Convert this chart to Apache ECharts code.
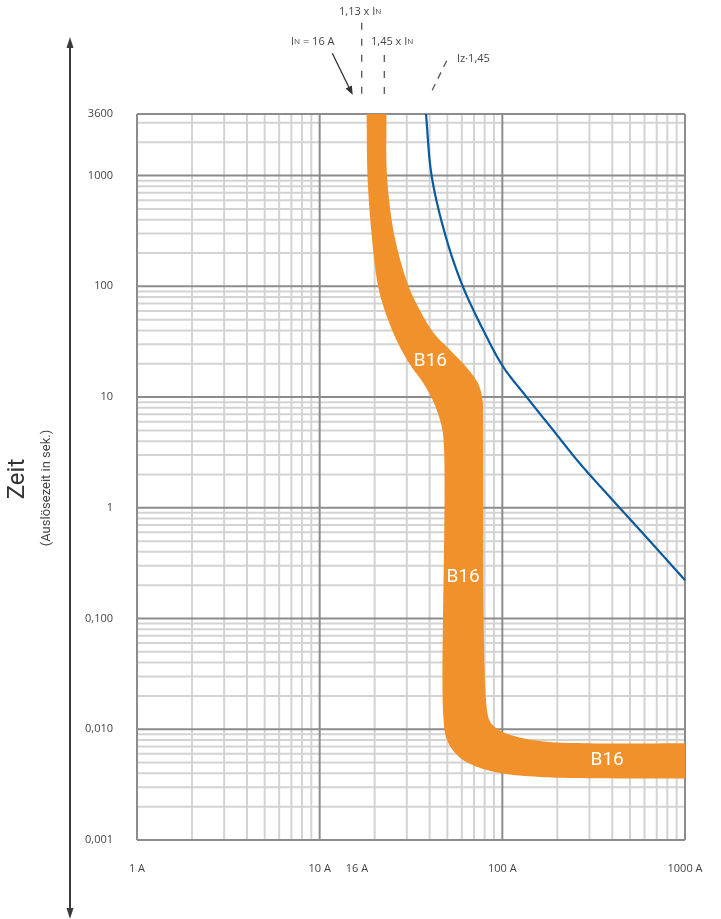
<!DOCTYPE html>
<html>
<head>
<meta charset="utf-8">
<title>Auslösekennlinie B16</title>
<script src="https://cdn.jsdelivr.net/npm/echarts@6/dist/echarts.min.js"></script>
<style>
  html, body { margin: 0; padding: 0; background: #ffffff; }
  #chart { width: 721px; height: 919px; }
</style>
</head>
<body>
<div id="chart"></div>
<script>
// ---- Axis ranges and tick labels ----
const X_MIN = 1, X_MAX = 1000;          // current in A
const Y_MIN = 0.001, Y_MAX = 3600;      // tripping time in s

const xTickValues = [1, 10, 16, 100, 1000];
const xTickLabels = ['1 A', '10 A', '16 A', '100 A', '1000 A'];
const yTickValues = [0.001, 0.01, 0.1, 1, 10, 100, 1000, 3600];
const yTickLabels = ['0,001', '0,010', '0,100', '1', '10', '100', '1000', '3600'];

// ---- Grid lines (log paper) ----
const xMajor = [1, 10, 100, 1000];
const xMinor = [2, 3, 4, 5, 6, 7, 8, 9,
                20, 30, 40, 50, 60, 70, 80, 90,
                200, 300, 400, 500, 600, 700, 800, 900];
const yMajor = [0.001, 0.01, 0.1, 1, 10, 100, 1000, 3600];
const yMinor = [0.002, 0.003, 0.004, 0.005, 0.006, 0.007, 0.008, 0.009,
                0.02, 0.03, 0.04, 0.05, 0.06, 0.07, 0.08, 0.09,
                0.2, 0.3, 0.4, 0.5, 0.6, 0.7, 0.8, 0.9,
                2, 3, 4, 5, 6, 7, 8, 9,
                20, 30, 40, 50, 60, 70, 80, 90,
                200, 300, 400, 500, 600, 700, 800, 900,
                2000, 3000];

// ---- B16 tripping band: lower (min) and upper (max) boundary ----
const b16MinCurrent = [18.08, 18.27, 19.22, 20.73, 22.36, 25.36, 28.05, 31.8, 37.0, 41.5, 45.0, 47.5,
                       47.5, 49.8, 57.2, 70.8, 97.1, 160.8, 342, 1000];
const b16MinTime    = [3600, 1000, 300, 106.5, 65.5, 37.6, 26.6, 18.8, 13.3, 9.41, 6.65, 4.39,
                       0.0132, 0.0080, 0.00573, 0.00466, 0.00403, 0.00371, 0.00361, 0.0036];
const b16MaxCurrent = [23.2, 23.37, 25.52, 30.26, 34.53, 42.26, 51.7, 63.2, 73.6, 77.9, 78.4,
                       81.9, 86.1, 97.1, 119.8, 175, 302, 1000];
const b16MaxTime    = [3600, 1000, 300, 106.5, 65.5, 37.6, 26.6, 18.8, 13.3, 9.41, 6.65,
                       0.0162, 0.0116, 0.00974, 0.00856, 0.00772, 0.00747, 0.00747];

// ---- Cable limit curve Iz·1,45 ----
const cableCurrent = [38.2, 41.0, 48.5, 59.9, 78.7, 101.2, 135.9, 190, 266, 388, 567, 828, 1000];
const cableTime    = [3600, 1000, 299, 105.7, 40.1, 18.7, 10.0, 5.01, 2.51, 1.25, 0.628, 0.314, 0.222];

// ---- "B16" captions inside the band ----
const bandLabelCurrent = [40.4, 60.9, 375];
const bandLabelTime    = [21.2, 0.236, 0.0052];
const bandLabelText    = ['B16', 'B16', 'B16'];

const FONT = '"Open Sans", "Noto Sans", sans-serif';
const NARROW = '"Liberation Sans Narrow", "Roboto", sans-serif';
const MAJOR_COLOR = '#8c8c8c';
const MINOR_COLOR = '#d3d3d3';
const BAND_COLOR = '#f0912b';
const CABLE_COLOR = '#0b5a9e';

// centripetal Catmull-Rom through pixel points
function smoothPath(pts, steps) {
  if (pts.length < 3) return pts.slice();
  const n = pts.length;
  const first = [2 * pts[0][0] - pts[1][0], 2 * pts[0][1] - pts[1][1]];
  const last = [2 * pts[n - 1][0] - pts[n - 2][0], 2 * pts[n - 1][1] - pts[n - 2][1]];
  const ext = [first].concat(pts, [last]);
  const out = [pts[0]];
  const knot = (a, b) => Math.max(Math.sqrt(Math.hypot(b[0] - a[0], b[1] - a[1])), 1e-4);
  for (let i = 1; i < ext.length - 2; i++) {
    const p0 = ext[i - 1], p1 = ext[i], p2 = ext[i + 1], p3 = ext[i + 2];
    const t0 = 0, t1 = t0 + knot(p0, p1), t2 = t1 + knot(p1, p2), t3 = t2 + knot(p2, p3);
    for (let s = 1; s <= steps; s++) {
      const t = t1 + (t2 - t1) * s / steps;
      const lerp = (a, b, ta, tb) => [
        ((tb - t) * a[0] + (t - ta) * b[0]) / (tb - ta),
        ((tb - t) * a[1] + (t - ta) * b[1]) / (tb - ta)
      ];
      const A1 = lerp(p0, p1, t0, t1), A2 = lerp(p1, p2, t1, t2), A3 = lerp(p2, p3, t2, t3);
      const B1 = lerp(A1, A2, t0, t2), B2 = lerp(A2, A3, t1, t3);
      out.push(lerp(B1, B2, t1, t2));
    }
  }
  return out;
}

function gridLineSeries(values, vertical, color, z) {
  return {
    type: 'custom',
    coordinateSystem: 'cartesian2d',
    silent: true,
    z: z,
    data: values.map(v => vertical ? [v, 1] : [1, v]),
    renderItem: function (params, api) {
      const v = api.value(vertical ? 0 : 1);
      const a = vertical ? api.coord([v, Y_MIN]) : api.coord([X_MIN, v]);
      const b = vertical ? api.coord([v, Y_MAX]) : api.coord([X_MAX, v]);
      return {
        type: 'line',
        shape: { x1: a[0], y1: a[1], x2: b[0], y2: b[1] },
        style: { stroke: color, lineWidth: 2 }
      };
    }
  };
}

function textStyle(text, size, color, align, vAlign, family) {
  return {
    text: text, fill: color, font: size + 'px ' + (family || FONT),
    align: align, textAlign: align,
    verticalAlign: vAlign, textVerticalAlign: vAlign
  };
}

const chart = echarts.init(document.getElementById('chart'), null, { renderer: 'canvas' });

// annotation arrow head for "IN = 16 A"
const arrowFrom = [332.3, 53.3], arrowTo = [352.7, 95];
const adx = arrowTo[0] - arrowFrom[0], ady = arrowTo[1] - arrowFrom[1];
const alen = Math.hypot(adx, ady);
const ux = adx / alen, uy = ady / alen;
const headBase = [arrowTo[0] - 9 * ux, arrowTo[1] - 9 * uy];
const arrowHead = [
  arrowTo,
  [headBase[0] - 3.5 * uy, headBase[1] + 3.5 * ux],
  [headBase[0] + 3.5 * uy, headBase[1] - 3.5 * ux]
];

const richIN = {
  m: { fontSize: 11, fontFamily: FONT, fill: '#444' },
  s: { fontSize: 8, fontFamily: FONT, fill: '#444' }
};

const option = {
  animation: false,
  backgroundColor: '#ffffff',
  grid: { left: 137, top: 114, width: 548, height: 726, show: false },
  xAxis: {
    type: 'log', logBase: 10, min: X_MIN, max: X_MAX,
    axisLine: { show: false }, axisTick: { show: false },
    axisLabel: { show: false }, splitLine: { show: false }
  },
  yAxis: {
    type: 'log', logBase: 10, min: Y_MIN, max: Y_MAX,
    axisLine: { show: false }, axisTick: { show: false },
    axisLabel: { show: false }, splitLine: { show: false }
  },
  series: [
    gridLineSeries(xMinor, true, MINOR_COLOR, 1),
    gridLineSeries(yMinor, false, MINOR_COLOR, 1),
    gridLineSeries(xMajor, true, MAJOR_COLOR, 2),
    gridLineSeries(yMajor, false, MAJOR_COLOR, 2),
    {
      // B16 band
      type: 'custom',
      coordinateSystem: 'cartesian2d',
      silent: true,
      z: 3,
      data: [[b16MinCurrent[0], b16MinTime[0]]],
      renderItem: function (params, api) {
        const lower = b16MinCurrent.map((c, i) => api.coord([c, b16MinTime[i]]));
        const upper = b16MaxCurrent.map((c, i) => api.coord([c, b16MaxTime[i]]));
        const pts = smoothPath(lower, 14).concat(smoothPath(upper, 14).reverse());
        return {
          type: 'polygon',
          shape: { points: pts },
          style: { fill: BAND_COLOR, stroke: null }
        };
      }
    },
    {
      name: 'Iz·1,45',
      type: 'custom',
      coordinateSystem: 'cartesian2d',
      silent: true,
      z: 4,
      data: [[cableCurrent[0], cableTime[0]]],
      renderItem: function (params, api) {
        const pts = cableCurrent.map((c, i) => api.coord([c, cableTime[i]]));
        return {
          type: 'polyline',
          shape: { points: smoothPath(pts, 14) },
          style: { stroke: CABLE_COLOR, lineWidth: 2.2, fill: null }
        };
      }
    },
    {
      // captions inside the band
      type: 'custom',
      coordinateSystem: 'cartesian2d',
      silent: true,
      z: 5,
      data: bandLabelCurrent.map((c, i) => [c, bandLabelTime[i]]),
      renderItem: function (params, api) {
        const p = api.coord([api.value(0), api.value(1)]);
        return {
          type: 'text', x: p[0], y: p[1],
          style: textStyle(bandLabelText[params.dataIndex], 19, '#ffffff', 'center', 'middle', NARROW)
        };
      }
    },
    {
      // x tick labels
      type: 'custom',
      coordinateSystem: 'cartesian2d',
      silent: true,
      z: 5,
      data: xTickValues.map(v => [v, Y_MIN]),
      renderItem: function (params, api) {
        const p = api.coord([api.value(0), Y_MIN]);
        return {
          type: 'text', x: p[0], y: p[1] + 29,
          style: textStyle(xTickLabels[params.dataIndex], 11, '#444', 'center', 'middle')
        };
      }
    },
    {
      // y tick labels
      type: 'custom',
      coordinateSystem: 'cartesian2d',
      silent: true,
      z: 5,
      data: yTickValues.map(v => [X_MIN, v]),
      renderItem: function (params, api) {
        const p = api.coord([X_MIN, api.value(1)]);
        return {
          type: 'text', x: p[0] - 24, y: p[1],
          style: textStyle(yTickLabels[params.dataIndex], 11, '#444', 'right', 'middle')
        };
      }
    }
  ],
  graphic: [
    // vertical time arrow
    { type: 'line', shape: { x1: 70, y1: 45, x2: 70, y2: 911 }, style: { stroke: '#3a3a3a', lineWidth: 2 } },
    { type: 'polygon', shape: { points: [[70, 37], [66.5, 48], [73.5, 48]] }, style: { fill: '#3a3a3a' } },
    { type: 'polygon', shape: { points: [[70, 919], [66.5, 908], [73.5, 908]] }, style: { fill: '#3a3a3a' } },
    // axis title
    { type: 'text', x: 18, y: 479, rotation: Math.PI / 2,
      style: textStyle('Zeit', 24, '#333', 'center', 'middle', NARROW) },
    { type: 'text', x: 47, y: 488, rotation: Math.PI / 2,
      style: textStyle('(Auslösezeit in sek.)', 13, '#444', 'center', 'middle', NARROW) },
    // rated current annotations
    { type: 'text', x: 339, y: 12,
      style: { text: '{m|1,13 x I}{s|N}', rich: richIN, align: 'left', textAlign: 'left', verticalAlign: 'middle', textVerticalAlign: 'middle' } },
    { type: 'text', x: 291, y: 41.5,
      style: { text: '{m|I}{s|N}{m| = 16 A}', rich: richIN, align: 'left', textAlign: 'left', verticalAlign: 'middle', textVerticalAlign: 'middle' } },
    { type: 'text', x: 371, y: 41.5,
      style: { text: '{m|1,45 x I}{s|N}', rich: richIN, align: 'left', textAlign: 'left', verticalAlign: 'middle', textVerticalAlign: 'middle' } },
    { type: 'text', x: 457, y: 59,
      style: textStyle('Iz·1,45', 11, '#444', 'left', 'middle') },
    { type: 'line', shape: { x1: 361.7, y1: 22.7, x2: 361.7, y2: 95 },
      style: { stroke: '#555', lineWidth: 1.3, lineDash: [7, 9] } },
    { type: 'line', shape: { x1: 384.3, y1: 55, x2: 384.3, y2: 95 },
      style: { stroke: '#555', lineWidth: 1.3, lineDash: [7, 9] } },
    { type: 'line', shape: { x1: 446.7, y1: 60.7, x2: 430.7, y2: 93.3 },
      style: { stroke: '#555', lineWidth: 1.3, lineDash: [7, 6] } },
    { type: 'line', shape: { x1: arrowFrom[0], y1: arrowFrom[1], x2: headBase[0], y2: headBase[1] },
      style: { stroke: '#333', lineWidth: 1.3 } },
    { type: 'polygon', shape: { points: arrowHead }, style: { fill: '#333' } }
  ]
};

chart.setOption(option);
</script>
</body>
</html>
